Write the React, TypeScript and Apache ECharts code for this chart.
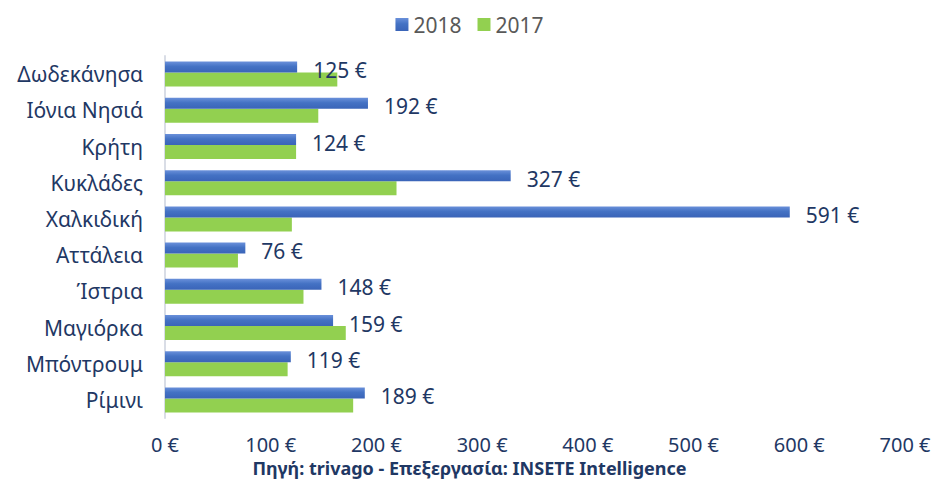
import React, { useEffect, useRef } from "react";
import * as echarts from "echarts";

const categories = [
  "Δωδεκάνησα",
  "Ιόνια Νησιά",
  "Κρήτη",
  "Κυκλάδες",
  "Χαλκιδική",
  "Αττάλεια",
  "Ίστρια",
  "Μαγιόρκα",
  "Μπόντρουμ",
  "Ρίμινι",
];
const values2018 = [125, 192, 124, 327, 591, 76, 148, 159, 119, 189];
const values2017 = [163, 145, 124, 219, 120, 69, 131, 171, 116, 178];
const seriesNames = ["2018", "2017"];
const sourceText = "Πηγή: trivago - Επεξεργασία: INSETE Intelligence";

const NAVY = "#1F3864";
const FONT = "'Noto Sans', sans-serif";

export default function App() {
  const ref = useRef<HTMLDivElement>(null);
  useEffect(() => {
    if (!ref.current) return;
    const chart = echarts.init(ref.current, undefined, { renderer: "svg" });
    chart.setOption({
      animation: false,
      textStyle: { fontFamily: FONT },
      legend: {
        data: seriesNames,
        top: 9,
        left: "center",
        icon: "rect",
        itemWidth: 13,
        itemHeight: 13,
        itemGap: 16,
        textStyle: { color: "#595959", fontSize: 21, fontFamily: FONT },
      },
      grid: { left: 165, right: 34, top: 56, bottom: 62, containLabel: false },
      xAxis: {
        type: "value",
        min: 0,
        max: 700,
        interval: 100,
        splitLine: { show: false },
        axisLine: { show: false },
        axisTick: { show: false },
        axisLabel: {
          color: NAVY,
          fontSize: 20,
          lineHeight: 20,
          margin: 16,
          fontFamily: FONT,
          formatter: (v: number) => `${v} €`,
        },
      },
      yAxis: {
        type: "category",
        data: categories,
        inverse: true,
        axisLine: { show: true, lineStyle: { color: "#D9DDE6", width: 2 } },
        axisTick: { show: false },
        axisLabel: { color: NAVY, fontSize: 21, margin: 22, fontFamily: FONT },
      },
      series: [
        {
          name: seriesNames[0],
          type: "bar",
          data: values2018,
          barWidth: 11,
          barGap: "0%",
          itemStyle: {
            color: new echarts.graphic.LinearGradient(0, 0, 0, 1, [
              { offset: 0, color: "#6A90DA" },
              { offset: 0.45, color: "#4472C4" },
              { offset: 1, color: "#3A64B8" },
            ]),
          },
          label: {
            show: true,
            position: "right",
            distance: 16,
            offset: [0, 3],
            color: NAVY,
            fontSize: 21,
            fontFamily: FONT,
            formatter: (p: any) => `${p.value} €`,
          },
          z: 3,
        },
        {
          name: seriesNames[1],
          type: "bar",
          data: values2017,
          barWidth: 14,
          barGap: "0%",
          itemStyle: { color: "#92D050" },
          z: 2,
        },
      ],
      graphic: [
        {
          type: "text",
          left: "center",
          top: 459,
          style: {
            text: sourceText,
            fill: NAVY,
            font: `bold 18px ${FONT}`,
            lineHeight: 18,
          },
        },
      ],
    });
    return () => chart.dispose();
  }, []);
  return (
    <div
      ref={ref}
      style={{ position: "absolute", left: 0, top: 0, width: 939, height: 480, background: "#fff" }}
    />
  );
}
